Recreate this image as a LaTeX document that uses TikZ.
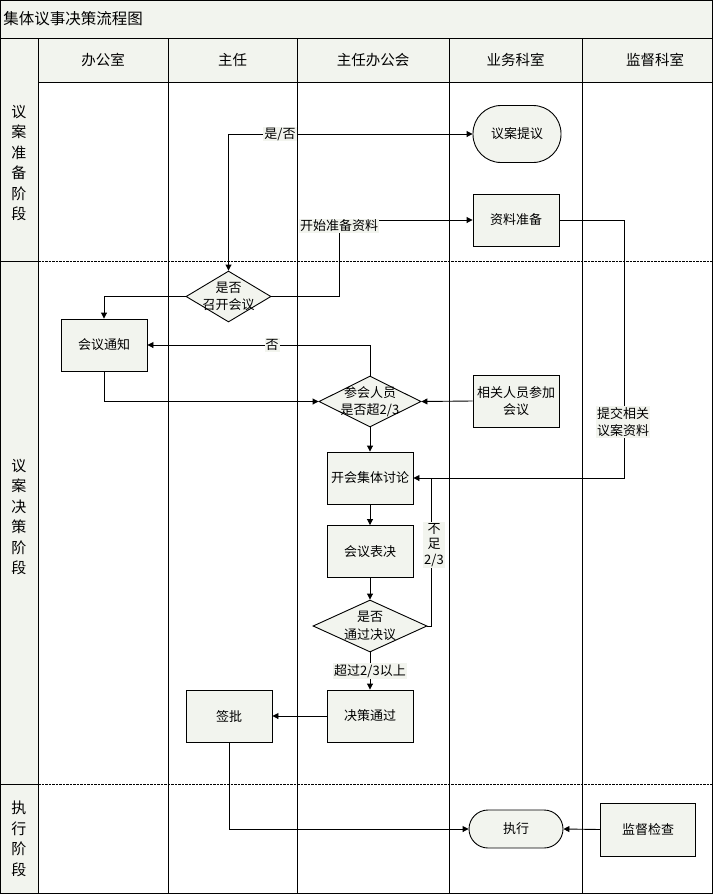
\documentclass[tikz,border=0pt]{standalone}
\usepackage{fontspec}
\setmainfont{Noto Sans CJK SC}
\usetikzlibrary{arrows.meta,shapes.geometric}
\definecolor{bgc}{RGB}{242,244,238}
\newcommand\myfnt{\fontsize{13}{17.5}\selectfont}
\newcommand\hdfnt{\fontsize{14.5}{17}\selectfont}
\newcommand\ttfnt{\fontsize{15.5}{18}\selectfont}
\newcommand\phfnt{\fontsize{15}{20.5}\selectfont}
\begin{document}
\begin{tikzpicture}[x=1pt,y=-1pt,line width=0.9pt,
  box/.style={draw, fill=bgc, minimum width=86pt, minimum height=52pt, inner sep=0pt, font=\myfnt, align=center},
  term/.style={draw, fill=bgc, rounded corners=#1, inner sep=0pt, font=\myfnt},
  dia/.style={draw, fill=bgc, diamond, inner sep=0pt},
  txt/.style={font=\myfnt, align=center, inner sep=0pt},
  lab/.style={font=\myfnt, align=center, fill=bgc, inner sep=1pt},
  hd/.style={font=\hdfnt, inner sep=0pt},
  ph/.style={font=\phfnt, align=center, inner sep=0pt},
  sep/.style={dash pattern=on 2.5pt off 1pt},
  arr/.style={-{Triangle[length=6pt,width=6pt]}},
  arrb/.style={{Triangle[length=6pt,width=6pt]}-{Triangle[length=6pt,width=6pt]}}]
\useasboundingbox (0,0) rectangle (713,895);
% backgrounds
\fill[bgc] (0,0) rectangle (712,38);
\fill[bgc] (0,38) rectangle (38,893);
\fill[bgc] (38,38) rectangle (712,82);
% grid
\draw (0,38) -- (712,38);
\draw (38,38) -- (38,893);
\foreach \xx in {168,297,449,582} \draw (\xx,38) -- (\xx,893);
\draw (38,82) -- (712,82);
\draw (0,261) -- (38,261);
\draw[sep] (38,261) -- (712,261);
\draw (0,784) -- (38,784);
\draw[sep] (38,784) -- (712,784);
\draw (0,0) rectangle (712,893);
% title and headers
\node[font=\ttfnt, anchor=west, inner sep=0pt] (title) at (3,19) {集体议事决策流程图};
\node[hd] (h1) at (103,60) {办公室};
\node[hd] (h2) at (232.5,60) {主任};
\node[hd] (h3) at (373,60) {主任办公会};
\node[hd] (h4) at (515.5,60) {业务科室};
\node[hd] (h5) at (655,60) {监督科室};
% phase labels
\node[ph] (p1) at (19,163) {议\\案\\准\\备\\阶\\段};
\node[ph] (p2) at (19,517) {议\\案\\决\\策\\阶\\段};
\node[ph] (p3) at (19,839) {执\\行\\阶\\段};
% nodes
\node[term=28pt, minimum width=88pt, minimum height=57pt] (n1) at (517,134) {议案提议};
\node[box] (n2) at (516,220) {资料准备};
\node[dia, minimum width=85pt, minimum height=51pt] (d1) at (228.5,296.5) {};
\node[txt] (t1) at (d1) {是否\\召开会议};
\node[box] (n3) at (104,345) {会议通知};
\node[dia, minimum width=102pt, minimum height=51pt] (d2) at (370,401.5) {};
\node[txt] (t2) at (d2) {参会人员\\是否超2/3};
\node[box] (n4) at (516,401) {相关人员参加\\会议};
\node[box] (n5) at (370,478) {开会集体讨论};
\node[box] (n6) at (370,551.5) {会议表决};
\node[dia, minimum width=114pt, minimum height=52pt] (d3) at (370,626) {};
\node[txt] (t3) at (d3) {是否\\通过决议};
\node[box] (n7) at (370,716) {决策通过};
\node[box] (n8) at (229,716) {签批};
\node[term=19pt, minimum width=94pt, minimum height=38pt] (n9) at (516,829) {执行};
\node[box, minimum width=95pt, minimum height=53pt] (n10) at (648,829.5) {监督检查};
% connectors
\draw[arrb] (d1.north) |- (n1.west);
\node[lab] (l1) at (280,134) {是/否};
\draw[arr] (d1.east) -- (339,296.5) -- (339,220) -- (n2.west);
\node[lab] (l2) at (339,226) {开始准备资料};
\draw[arr] (d1.west) -| (n3.north);
\draw[arr] (d2.north) |- (n3.east);
\node[lab] (l3) at (272,345) {否};
\draw[arr] (n3.south) |- (d2.west);
\draw[arr] (n4.west) -- (d2.east);
\draw[arr] (d2.south) -- (n5.north);
\draw[arr] (n2.east) -- (624,220) -- (624,478) -- (n5.east);
\node[lab] (l4) at (623,422) {提交相关\\议案资料};
\draw[arr] (n5.south) -- (n6.north);
\draw[arr] (n6.south) -- (d3.north);
\draw (d3.east) -- (431,626) -- (431,478);
\node[lab, font=\fontsize{13}{15.5}\selectfont] (l5) at (434,545) {不\\足\\2/3};
\draw[arr] (d3.south) -- (n7.north);
\node[lab] (l6) at (370,671) {超过2/3以上};
\draw[arr] (n7.west) -- (n8.east);
\draw[arr] (n8.south) |- (n9.west);
\draw[arr] (n10.west) -- (n9.east);
\end{tikzpicture}
\end{document}
